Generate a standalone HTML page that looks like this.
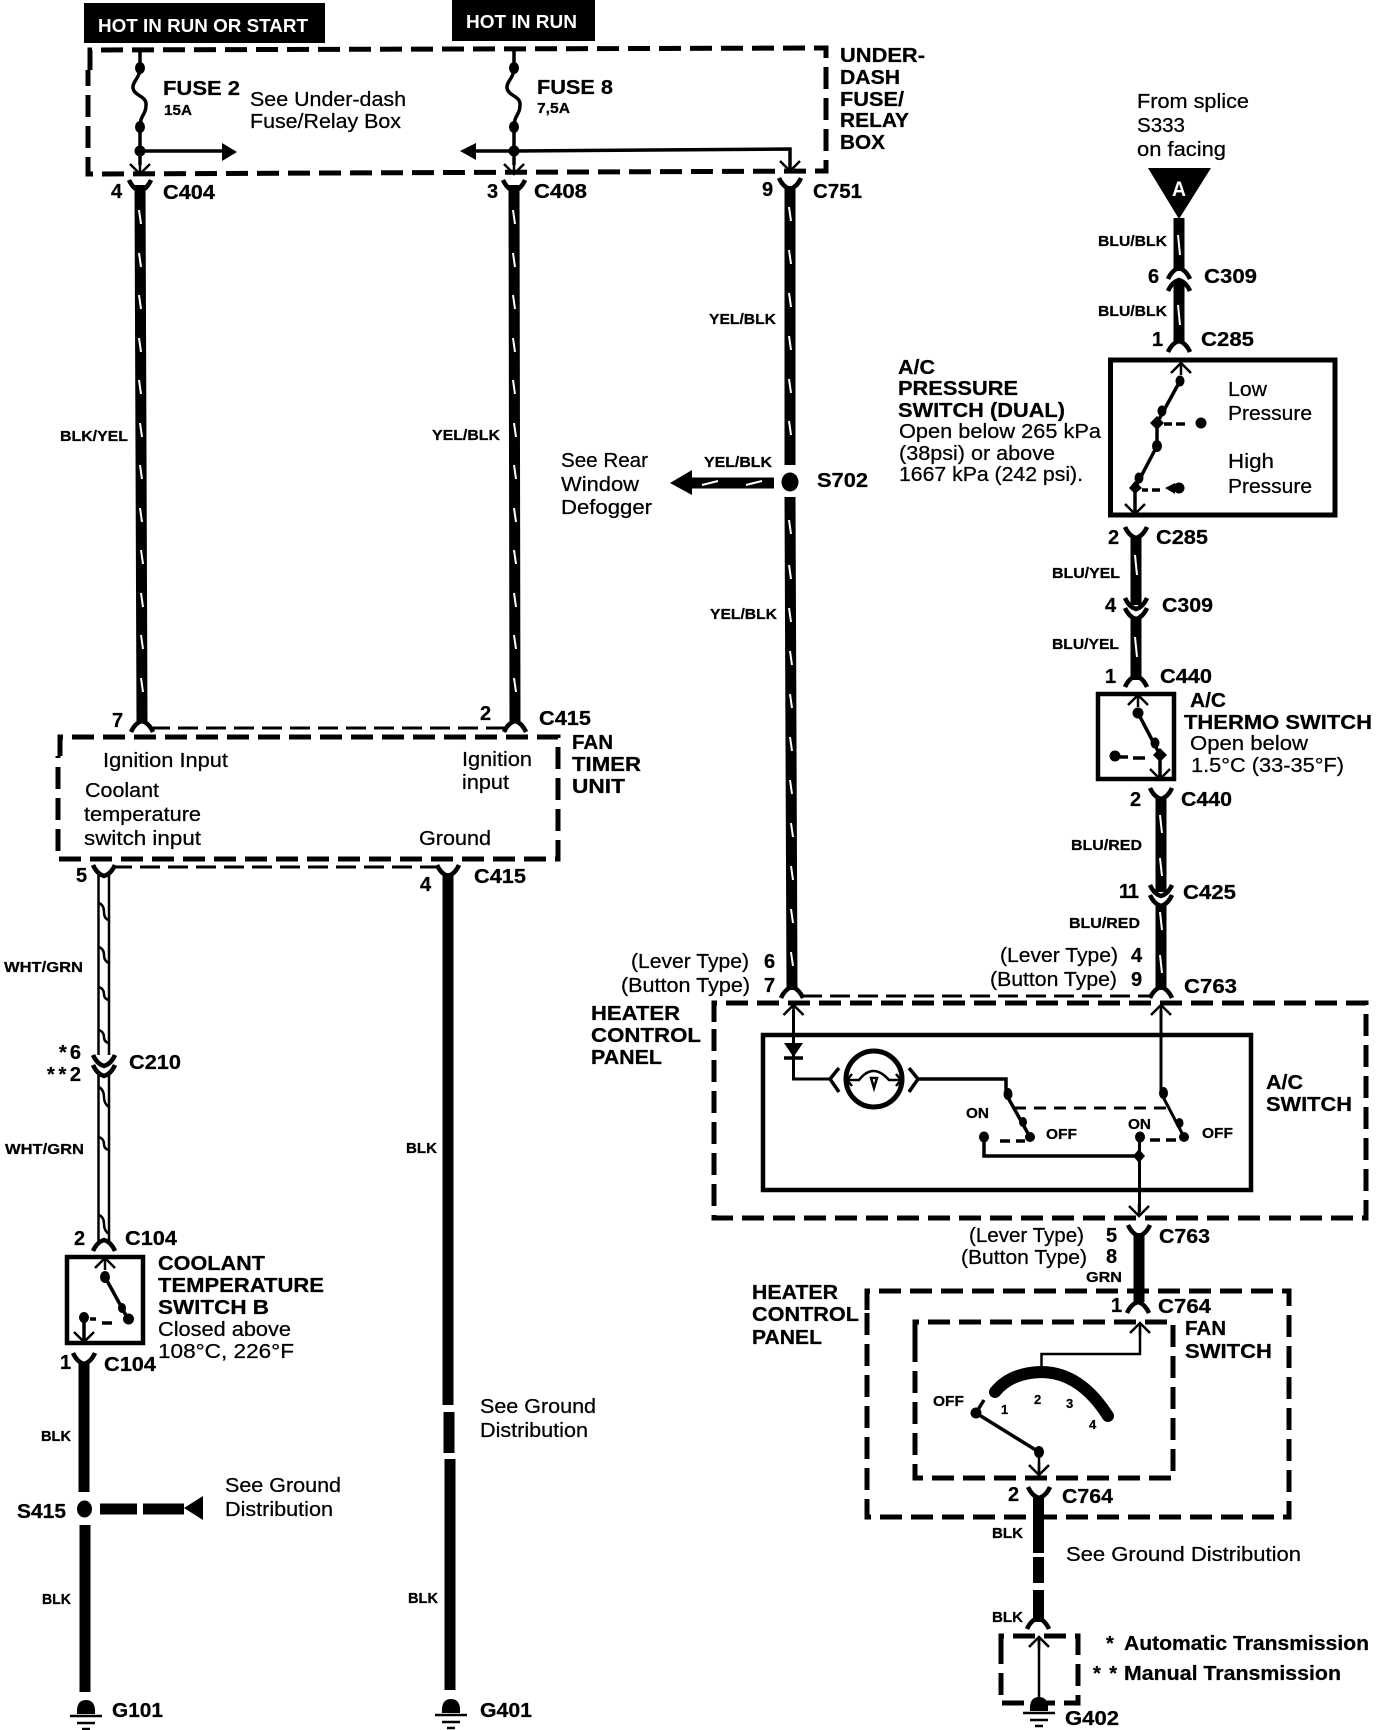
<!DOCTYPE html>
<html><head><meta charset="utf-8"><title>Heater control wiring diagram</title>
<style>
html,body{margin:0;padding:0;background:#fff}
svg{display:block}
text{font-family:"Liberation Sans",sans-serif;fill:#000;font-size:20px;stroke:#000;stroke-width:.25}
.b{font-weight:bold}
.s{font-weight:bold;font-size:14.5px}
.w{fill:#fff;font-weight:bold;stroke:none}
.d{fill:none;stroke:#000;stroke-width:5;stroke-dasharray:22 9}
.t{fill:none;stroke:#000;stroke-width:3;stroke-dasharray:20 8}
.l{fill:none;stroke:#000;stroke-width:2.5}
.x{fill:none;stroke:#000;stroke-width:11}
.m{fill:none;stroke:#000;stroke-width:3.5}
.bx{fill:none;stroke:#000;stroke-width:4.5}
</style></head><body>
<svg width="1392" height="1730" viewBox="0 0 1392 1730" xmlns="http://www.w3.org/2000/svg">
<defs>
<path id="y" d="M-11 0Q-7 9 0 11Q7 9 11 0" fill="none" stroke="#000" stroke-width="4.5"/>
<path id="n" d="M-11 0Q-7 -9 0 -11Q7 -9 11 0" fill="none" stroke="#000" stroke-width="4.5"/>
<path id="ad" d="M-10 -10L0 0L10 -10M0 0V-12" fill="none" stroke="#000" stroke-width="2.5"/>
<path id="au" d="M-10 10L0 0L10 10M0 0V12" fill="none" stroke="#000" stroke-width="2.5"/>
<g id="gnd"><path d="M-9 14Q-10 0 0 0Q10 0 9 14Z"/><path d="M-16 16H16M-9 23H9M-4 29H4" stroke="#000" stroke-width="2.5" fill="none"/></g>
</defs>
<rect width="1392" height="1730" fill="#fff"/>

<!-- hot boxes -->
<rect x="84" y="3" width="241" height="40"/>
<rect x="452" y="0" width="143" height="41"/>
<text class="w" x="98" y="32" style="font-size:18px" textLength="210" lengthAdjust="spacingAndGlyphs">HOT IN RUN OR START</text>
<text class="w" x="466" y="28" style="font-size:18px" textLength="111" lengthAdjust="spacingAndGlyphs">HOT IN RUN</text>

<!-- dashed boxes -->
<path class="d" d="M90 70V50L826 48V171L88 174V70"/>
<path class="d" d="M60 756V737L558 737V859H58V756"/>
<path class="d" d="M714 1022V1003H1366V1218H714V1022"/>
<path class="d" d="M867 1310V1291H1289V1517H867V1310"/>
<path class="d" d="M915 1340V1322H1173V1478H915V1340"/>
<path class="d" d="M1001 1655V1636H1078V1703H1001V1655"/>
<path class="t" d="M150 728H510"/>
<path class="t" d="M112 867H440"/>
<path class="t" d="M802 996H1152"/>

<!-- wires thick -->
<path class="x" d="M140 185L142 722"/>
<path class="x" d="M514 185L515 722"/>
<path class="x" d="M790 186V465M790 497L792 990"/>
<path class="x" d="M1179 218V271M1179 281V343"/>
<path class="x" d="M1136 536V605M1136 617V680"/>
<path class="x" d="M1161 798V892M1161 905V990"/>
<path class="x" d="M448 873V1405M449 1412V1453M450 1459V1690"/>
<path class="x" d="M84 1362V1492M85 1525V1692"/>
<path class="x" d="M1139 1233V1302"/>
<path class="x" d="M1038.500 1497V1553M1038.500 1557V1583M1038.500 1590V1622"/>
<path d="M774 477.500H692V470L670 483L692 495V488.500H774Z"/>
<ellipse cx="790" cy="482" rx="8.500" ry="9.500"/>
<ellipse cx="84.500" cy="1509" rx="7.500" ry="8.500"/>
<rect x="100" y="1503.500" width="37" height="11"/>
<rect x="143" y="1503.500" width="41" height="11"/>
<path d="M184 1508L203 1496V1520Z"/>

<!-- tick marks -->
<path fill="none" stroke="#fff" stroke-width="2" d="M139 210l2 14M139 253l2 14M139 295l2 14M139 338l2 14M139 380l2 14M140 423l2 14M140 465l2 14M140 508l2 14M141 550l2 14M141 593l2 14M141 635l2 14M141 678l2 14M513 210l2 14M513 253l2 14M513 295l2 14M513 338l2 14M513 380l2 14M514 423l2 14M514 465l2 14M514 508l2 14M514 550l2 14M514 593l2 14M514 635l2 14M514 678l2 14M789 207l2 14M789 250l2 14M789 293l2 14M789 336l2 14M789 379l2 14M789 421l2 14M789 520l2 14M789 565l2 14M789 608l2 14M790 651l2 14M790 694l2 14M790 737l2 14M790 780l2 14M791 823l2 14M791 866l2 14M791 909l2 14M791 952l2 14M1178 235l2 20M1178 305l2 20M1135 555l2 20M1135 637l2 20M1160 815l2 18M1160 858l2 18M1160 912l2 18M1160 955l2 18M702 485l16 -4M746 485l16 -4"/>

<!-- connectors -->
<use href="#y" x="140" y="180"/><use href="#y" x="514" y="180"/><use href="#y" x="790" y="178"/>
<use href="#y" x="1136" y="527"/><use href="#y" x="1161" y="788"/>
<use href="#y" x="1136" y="598"/><use href="#y" x="1136" y="608"/>
<use href="#y" x="1161" y="885"/><use href="#y" x="1161" y="895"/>
<use href="#y" x="104" y="1055"/><use href="#y" x="104" y="1065"/>
<use href="#y" x="104" y="865"/><use href="#y" x="448" y="865"/><use href="#y" x="84" y="1353"/>
<use href="#y" x="1139" y="1225"/><use href="#y" x="1039" y="1487"/>
<use href="#n" x="142" y="732"/><use href="#n" x="515" y="732"/><use href="#n" x="792" y="998"/><use href="#n" x="1161" y="998"/>
<use href="#n" x="1179" y="352"/><use href="#n" x="1136" y="687"/><use href="#n" x="104" y="1251"/><use href="#n" x="1138" y="1313"/><use href="#n" x="1038" y="1629"/>
<use href="#n" x="1179" y="279"/><use href="#n" x="1179" y="291"/>

<!-- hollow wire -->
<path class="m" style="stroke-width:2.500" d="M98.500 873V1055M109 873V1055M98.500 1074V1243M109 1074V1243"/>
<path class="l" d="M99 903Q104 905 104 912T109 920M99 947Q104 949 104 955T109 963M99 987Q104 989 104 994T109 1000M99 1030Q104 1032 104 1037T109 1043M99 1087Q104 1090 104 1097T109 1107M99 1137Q104 1139 104 1144T109 1150M99 1215Q104 1217 104 1224T109 1234"/>

<!-- fuses -->
<path class="m" d="M140 50V68C140 78 132 82 133 88C134 96 147 96 146 105C146 115 140 115 140 127V165"/>
<path class="m" d="M514 50V68C514 78 506 82 507 88C508 96 521 96 520 105C520 115 514 115 514 127V165"/>
<ellipse cx="140" cy="68" rx="5" ry="6"/><ellipse cx="140" cy="127" rx="5" ry="6"/><ellipse cx="140" cy="151" rx="5.500" ry="5.500"/>
<ellipse cx="514" cy="68" rx="5" ry="6"/><ellipse cx="514" cy="127" rx="5" ry="6"/><ellipse cx="514" cy="151" rx="5.500" ry="5.500"/>
<path class="m" d="M140 151H225"/><path d="M222 143L237 152L222 161Z"/>
<path class="m" d="M470 151H514L790 149V168"/><path d="M476 143L460 151L476 160Z"/>
<use href="#ad" x="140" y="174"/><use href="#ad" x="514" y="174"/><use href="#ad" x="790" y="171"/>

<!-- triangle A -->
<path d="M1148 168H1211L1179 219Z"/>
<text class="w" x="1172" y="196" style="font-size:21px" textLength="14" lengthAdjust="spacingAndGlyphs">A</text>

<!-- pressure switch -->
<rect class="bx" x="1110.500" y="360" width="224.500" height="155" style="stroke-width:5"/>
<use href="#au" x="1181" y="363"/>
<path class="m" d="M1180 381L1157 423V446L1135 488V512"/>
<ellipse cx="1180" cy="381" rx="4.500" ry="5.500"/><ellipse cx="1162" cy="411" rx="4.500" ry="5.500"/><path d="M1150 423L1157 416L1164 423L1157 430Z"/><ellipse cx="1157" cy="446" rx="5" ry="6"/><ellipse cx="1139" cy="478" rx="4.500" ry="5.500"/><path d="M1129 488L1135 481L1142 488L1135 494Z"/>
<path class="m" d="M1164 424H1172M1176 424H1185"/><ellipse cx="1201" cy="423" rx="5.500" ry="5.500"/>
<path class="m" d="M1142 490H1148M1152 490H1160"/><ellipse cx="1179" cy="488" rx="5.500" ry="5.500"/><path d="M1165 488L1175 483V494Z"/>
<use href="#ad" x="1135" y="514"/>

<!-- thermo switch -->
<rect class="bx" x="1098" y="694" width="76" height="85"/>
<use href="#au" x="1138" y="695"/>
<path class="m" d="M1138 713L1160 755V777"/>
<ellipse cx="1138" cy="713" rx="5.500" ry="5.500"/><ellipse cx="1155" cy="743" rx="4.500" ry="5.500"/><path d="M1153 755L1160 748L1167 755L1160 762Z"/>
<path class="m" d="M1133 758H1145M1128 757H1120"/><ellipse cx="1115" cy="756" rx="5.500" ry="5.500"/>
<use href="#ad" x="1160" y="779"/>

<!-- coolant switch -->
<rect class="bx" x="67" y="1257" width="76" height="86"/>
<use href="#au" x="105" y="1258"/>
<path class="m" d="M105 1277L128 1319"/>
<ellipse cx="105" cy="1277" rx="5" ry="6"/><ellipse cx="122" cy="1308" rx="4" ry="5"/><ellipse cx="128.500" cy="1319" rx="5.500" ry="5.500"/>
<path class="m" d="M102 1323H112"/><path class="m" d="M90 1319H96"/>
<ellipse cx="84" cy="1317.500" rx="5" ry="5.500"/><path class="m" d="M84 1318V1340"/>
<use href="#ad" x="84" y="1342"/>

<!-- A/C switch box -->
<rect class="bx" x="763" y="1035" width="488" height="155"/>
<use href="#au" x="793.500" y="1005"/>
<path class="m" d="M793.500 1010V1079H830" style="stroke-width:3"/>
<path d="M784 1043H803L793.500 1057Z"/><path class="m" d="M784 1058H803"/>
<path class="m" d="M839 1068L830 1079L839 1092M909 1068L918 1079L909 1092"/>
<ellipse cx="874" cy="1079" rx="28" ry="28" fill="none" stroke="#000" stroke-width="5"/>
<path class="l" d="M847 1080H859Q873 1062 889 1080H901M852 1074L847 1080L852 1086M896 1074L901 1080L896 1086"/>
<path class="l" d="M871 1078L874 1088L877 1078Z"/>
<path class="m" d="M918 1079H1006V1094L1030 1137"/>
<ellipse cx="1008" cy="1094" rx="4.500" ry="6"/><ellipse cx="1023" cy="1122" rx="4" ry="5"/><ellipse cx="1030" cy="1137" rx="5" ry="5"/>
<ellipse cx="984" cy="1137" rx="5" ry="5.500"/>
<path class="m" d="M984 1137V1156H1139"/>
<path class="m" d="M1000 1141H1010M1016 1141H1025"/>
<path class="t" style="stroke-dasharray:12 8" d="M1014 1108H1170"/>
<use href="#au" x="1161" y="1005"/>
<path class="m" d="M1161 1010V1093L1184 1137" style="stroke-width:3"/>
<ellipse cx="1163.500" cy="1093" rx="4.500" ry="6"/><ellipse cx="1179.500" cy="1123" rx="4" ry="5"/><ellipse cx="1184" cy="1137" rx="5" ry="5"/>
<ellipse cx="1140" cy="1137" rx="5" ry="5.500"/>
<path class="m" d="M1150 1140H1160M1166 1140H1176"/>
<path class="m" d="M1139.500 1137V1212" style="stroke-width:3"/>
<path d="M1133 1156L1139 1149L1145 1156L1139 1163Z"/>
<use href="#ad" x="1139" y="1216"/>

<!-- fan switch -->
<use href="#au" x="1140" y="1323"/>
<path class="l" d="M1140 1328V1354H1041.500V1370"/>
<path d="M995 1392Q1010 1373 1041 1372Q1080 1372 1108 1416" fill="none" stroke="#000" stroke-width="12" stroke-linecap="round"/>
<ellipse cx="976" cy="1413" rx="5.500" ry="5.500"/>
<path class="m" d="M976 1413L984 1400M976 1413L1039 1452"/>
<ellipse cx="1039" cy="1452" rx="5" ry="6"/>
<path class="l" d="M1039 1452V1473"/>
<use href="#ad" x="1039" y="1475"/>

<!-- small ground box -->
<use href="#au" x="1039" y="1637"/>
<path class="l" d="M1039 1640V1700"/>

<!-- grounds -->
<use href="#gnd" x="86" y="1700"/>
<use href="#gnd" x="451" y="1699"/>
<use href="#gnd" x="1039" y="1697"/>

<!-- labels top -->
<text class="b" x="163" y="95" textLength="77" lengthAdjust="spacingAndGlyphs">FUSE 2</text>
<text class="s" x="164" y="115" textLength="28" lengthAdjust="spacingAndGlyphs">15A</text>
<text x="250" y="106" textLength="156" lengthAdjust="spacingAndGlyphs">See Under-dash</text>
<text x="250" y="128" textLength="151" lengthAdjust="spacingAndGlyphs">Fuse/Relay Box</text>
<text class="b" x="537" y="94" textLength="76" lengthAdjust="spacingAndGlyphs">FUSE 8</text>
<text class="s" x="537" y="113" textLength="33" lengthAdjust="spacingAndGlyphs">7,5A</text>
<text class="b" x="840" y="62" textLength="85" lengthAdjust="spacingAndGlyphs">UNDER-</text>
<text class="b" x="840" y="84" textLength="60" lengthAdjust="spacingAndGlyphs">DASH</text>
<text class="b" x="840" y="106" textLength="64" lengthAdjust="spacingAndGlyphs">FUSE/</text>
<text class="b" x="840" y="127" textLength="69" lengthAdjust="spacingAndGlyphs">RELAY</text>
<text class="b" x="840" y="149" textLength="45" lengthAdjust="spacingAndGlyphs">BOX</text>
<text class="b" x="111" y="198">4</text>
<text class="b" x="163" y="199" textLength="52" lengthAdjust="spacingAndGlyphs">C404</text>
<text class="b" x="487" y="198">3</text>
<text class="b" x="534" y="198" textLength="53" lengthAdjust="spacingAndGlyphs">C408</text>
<text class="b" x="762" y="196">9</text>
<text class="b" x="813" y="198" textLength="49" lengthAdjust="spacingAndGlyphs">C751</text>
<text class="s" x="60" y="441" textLength="68" lengthAdjust="spacingAndGlyphs">BLK/YEL</text>
<text class="s" x="432" y="440" textLength="68" lengthAdjust="spacingAndGlyphs">YEL/BLK</text>
<text class="s" x="709" y="324" textLength="67" lengthAdjust="spacingAndGlyphs">YEL/BLK</text>
<text class="s" x="704" y="467" textLength="68" lengthAdjust="spacingAndGlyphs">YEL/BLK</text>
<text class="s" x="710" y="619" textLength="67" lengthAdjust="spacingAndGlyphs">YEL/BLK</text>
<text class="b" x="817" y="487" textLength="51" lengthAdjust="spacingAndGlyphs">S702</text>
<text x="561" y="467" textLength="87" lengthAdjust="spacingAndGlyphs">See Rear</text>
<text x="561" y="491" textLength="78" lengthAdjust="spacingAndGlyphs">Window</text>
<text x="561" y="514" textLength="91" lengthAdjust="spacingAndGlyphs">Defogger</text>

<!-- right top -->
<text x="1137" y="108" textLength="112" lengthAdjust="spacingAndGlyphs">From splice</text>
<text x="1137" y="132" textLength="48" lengthAdjust="spacingAndGlyphs">S333</text>
<text x="1137" y="156" textLength="89" lengthAdjust="spacingAndGlyphs">on facing</text>
<text class="s" x="1098" y="246" textLength="69" lengthAdjust="spacingAndGlyphs">BLU/BLK</text>
<text class="s" x="1098" y="316" textLength="69" lengthAdjust="spacingAndGlyphs">BLU/BLK</text>
<text class="b" x="1148" y="283">6</text>
<text class="b" x="1204" y="283" textLength="53" lengthAdjust="spacingAndGlyphs">C309</text>
<text class="b" x="1152" y="346">1</text>
<text class="b" x="1201" y="346" textLength="53" lengthAdjust="spacingAndGlyphs">C285</text>
<text class="b" x="898" y="374" textLength="37" lengthAdjust="spacingAndGlyphs">A/C</text>
<text class="b" x="898" y="395" textLength="120" lengthAdjust="spacingAndGlyphs">PRESSURE</text>
<text class="b" x="898" y="417" textLength="167" lengthAdjust="spacingAndGlyphs">SWITCH (DUAL)</text>
<text x="899" y="438" textLength="202" lengthAdjust="spacingAndGlyphs">Open below 265 kPa</text>
<text x="899" y="460" textLength="156" lengthAdjust="spacingAndGlyphs">(38psi) or above</text>
<text x="899" y="481" textLength="184" lengthAdjust="spacingAndGlyphs">1667 kPa (242 psi).</text>
<text x="1228" y="396" textLength="39" lengthAdjust="spacingAndGlyphs">Low</text>
<text x="1228" y="420" textLength="84" lengthAdjust="spacingAndGlyphs">Pressure</text>
<text x="1228" y="468" textLength="46" lengthAdjust="spacingAndGlyphs">High</text>
<text x="1228" y="493" textLength="84" lengthAdjust="spacingAndGlyphs">Pressure</text>
<text class="b" x="1108" y="544">2</text>
<text class="b" x="1156" y="544" textLength="52" lengthAdjust="spacingAndGlyphs">C285</text>
<text class="s" x="1052" y="578" textLength="68" lengthAdjust="spacingAndGlyphs">BLU/YEL</text>
<text class="s" x="1052" y="649" textLength="67" lengthAdjust="spacingAndGlyphs">BLU/YEL</text>
<text class="b" x="1105" y="612">4</text>
<text class="b" x="1162" y="612" textLength="51" lengthAdjust="spacingAndGlyphs">C309</text>
<text class="b" x="1105" y="683">1</text>
<text class="b" x="1160" y="683" textLength="52" lengthAdjust="spacingAndGlyphs">C440</text>
<text class="b" x="1190" y="707" textLength="36" lengthAdjust="spacingAndGlyphs">A/C</text>
<text class="b" x="1184" y="729" textLength="188" lengthAdjust="spacingAndGlyphs">THERMO SWITCH</text>
<text x="1190" y="750" textLength="118" lengthAdjust="spacingAndGlyphs">Open below</text>
<text x="1191" y="772" textLength="153" lengthAdjust="spacingAndGlyphs">1.5°C (33-35°F)</text>
<text class="b" x="1130" y="806">2</text>
<text class="b" x="1181" y="806" textLength="51" lengthAdjust="spacingAndGlyphs">C440</text>
<text class="s" x="1071" y="850" textLength="71" lengthAdjust="spacingAndGlyphs">BLU/RED</text>
<text class="b" x="1119" y="898" textLength="20" lengthAdjust="spacing">11</text>
<text class="b" x="1183" y="899" textLength="53" lengthAdjust="spacingAndGlyphs">C425</text>
<text class="s" x="1069" y="928" textLength="71" lengthAdjust="spacingAndGlyphs">BLU/RED</text>

<!-- heater labels -->
<text x="631" y="968" textLength="118" lengthAdjust="spacingAndGlyphs">(Lever Type)</text>
<text x="621" y="992" textLength="129" lengthAdjust="spacingAndGlyphs">(Button Type)</text>
<text class="b" x="764" y="968">6</text>
<text class="b" x="764" y="992">7</text>
<text x="1000" y="962" textLength="118" lengthAdjust="spacingAndGlyphs">(Lever Type)</text>
<text x="990" y="986" textLength="127" lengthAdjust="spacingAndGlyphs">(Button Type)</text>
<text class="b" x="1131" y="962">4</text>
<text class="b" x="1131" y="986">9</text>
<text class="b" x="1184" y="993" textLength="53" lengthAdjust="spacingAndGlyphs">C763</text>
<text class="b" x="591" y="1020" textLength="89" lengthAdjust="spacingAndGlyphs">HEATER</text>
<text class="b" x="591" y="1042" textLength="110" lengthAdjust="spacingAndGlyphs">CONTROL</text>
<text class="b" x="591" y="1064" textLength="71" lengthAdjust="spacingAndGlyphs">PANEL</text>
<text class="s" x="966" y="1118" textLength="23" lengthAdjust="spacingAndGlyphs">ON</text>
<text class="s" x="1046" y="1139" textLength="31" lengthAdjust="spacingAndGlyphs">OFF</text>
<text class="s" x="1128" y="1129" textLength="23" lengthAdjust="spacingAndGlyphs">ON</text>
<text class="s" x="1202" y="1138" textLength="31" lengthAdjust="spacingAndGlyphs">OFF</text>
<text class="b" x="1266" y="1089" textLength="37" lengthAdjust="spacingAndGlyphs">A/C</text>
<text class="b" x="1266" y="1111" textLength="86" lengthAdjust="spacingAndGlyphs">SWITCH</text>
<text x="969" y="1242" textLength="115" lengthAdjust="spacingAndGlyphs">(Lever Type)</text>
<text x="961" y="1264" textLength="126" lengthAdjust="spacingAndGlyphs">(Button Type)</text>
<text class="b" x="1106" y="1242">5</text>
<text class="b" x="1106" y="1263">8</text>
<text class="b" x="1159" y="1243" textLength="51" lengthAdjust="spacingAndGlyphs">C763</text>
<text class="s" x="1086" y="1282" textLength="36" lengthAdjust="spacingAndGlyphs">GRN</text>
<text class="b" x="752" y="1299" textLength="86" lengthAdjust="spacingAndGlyphs">HEATER</text>
<text class="b" x="752" y="1321" textLength="107" lengthAdjust="spacingAndGlyphs">CONTROL</text>
<text class="b" x="752" y="1344" textLength="70" lengthAdjust="spacingAndGlyphs">PANEL</text>
<text class="b" x="1111" y="1312">1</text>
<text class="b" x="1158" y="1313" textLength="53" lengthAdjust="spacingAndGlyphs">C764</text>
<text class="b" x="1185" y="1335" textLength="41" lengthAdjust="spacingAndGlyphs">FAN</text>
<text class="b" x="1185" y="1358" textLength="87" lengthAdjust="spacingAndGlyphs">SWITCH</text>
<text class="s" x="933" y="1406" textLength="31" lengthAdjust="spacingAndGlyphs">OFF</text>
<text class="s" x="1001" y="1414" style="font-size:13px">1</text>
<text class="s" x="1034" y="1404" style="font-size:13px">2</text>
<text class="s" x="1066" y="1408" style="font-size:13px">3</text>
<text class="s" x="1089" y="1429" style="font-size:13px">4</text>
<text class="b" x="1008" y="1501">2</text>
<text class="b" x="1062" y="1503" textLength="51" lengthAdjust="spacingAndGlyphs">C764</text>
<text class="s" x="992" y="1538" textLength="31" lengthAdjust="spacingAndGlyphs">BLK</text>
<text x="1066" y="1561" textLength="235" lengthAdjust="spacingAndGlyphs">See Ground Distribution</text>
<text class="s" x="992" y="1622" textLength="31" lengthAdjust="spacingAndGlyphs">BLK</text>
<text class="b" x="1106" y="1650">*</text>
<text class="b" x="1124" y="1650" textLength="245" lengthAdjust="spacingAndGlyphs">Automatic Transmission</text>
<text class="b" x="1093" y="1680" textLength="24" lengthAdjust="spacing">**</text>
<text class="b" x="1124" y="1680" textLength="217" lengthAdjust="spacingAndGlyphs">Manual Transmission</text>
<text class="b" x="1065" y="1725" textLength="54" lengthAdjust="spacingAndGlyphs">G402</text>

<!-- fan timer -->
<text class="b" x="112" y="727">7</text>
<text class="b" x="480" y="720">2</text>
<text class="b" x="539" y="725" textLength="52" lengthAdjust="spacingAndGlyphs">C415</text>
<text class="b" x="572" y="749" textLength="41" lengthAdjust="spacingAndGlyphs">FAN</text>
<text class="b" x="572" y="771" textLength="69" lengthAdjust="spacingAndGlyphs">TIMER</text>
<text class="b" x="572" y="793" textLength="53" lengthAdjust="spacingAndGlyphs">UNIT</text>
<text x="103" y="767" textLength="125" lengthAdjust="spacingAndGlyphs">Ignition Input</text>
<text x="85" y="797" textLength="74" lengthAdjust="spacingAndGlyphs">Coolant</text>
<text x="84" y="821" textLength="117" lengthAdjust="spacingAndGlyphs">temperature</text>
<text x="84" y="845" textLength="117" lengthAdjust="spacingAndGlyphs">switch input</text>
<text x="462" y="766" textLength="70" lengthAdjust="spacingAndGlyphs">Ignition</text>
<text x="462" y="789" textLength="47" lengthAdjust="spacingAndGlyphs">input</text>
<text x="419" y="845" textLength="72" lengthAdjust="spacingAndGlyphs">Ground</text>
<text class="b" x="76" y="882">5</text>
<text class="b" x="420" y="891">4</text>
<text class="b" x="474" y="883" textLength="52" lengthAdjust="spacingAndGlyphs">C415</text>
<text class="s" x="4" y="972" textLength="79" lengthAdjust="spacingAndGlyphs">WHT/GRN</text>
<text class="b" x="59" y="1059" textLength="22" lengthAdjust="spacing">*6</text>
<text class="b" x="47" y="1081" textLength="34" lengthAdjust="spacing">**2</text>
<text class="b" x="129" y="1069" textLength="52" lengthAdjust="spacingAndGlyphs">C210</text>
<text class="s" x="5" y="1154" textLength="79" lengthAdjust="spacingAndGlyphs">WHT/GRN</text>
<text class="s" x="406" y="1153" textLength="31" lengthAdjust="spacingAndGlyphs">BLK</text>

<!-- lower left -->
<text class="b" x="74" y="1245">2</text>
<text class="b" x="125" y="1245" textLength="52" lengthAdjust="spacingAndGlyphs">C104</text>
<text class="b" x="158" y="1270" textLength="107" lengthAdjust="spacingAndGlyphs">COOLANT</text>
<text class="b" x="158" y="1292" textLength="166" lengthAdjust="spacingAndGlyphs">TEMPERATURE</text>
<text class="b" x="158" y="1314" textLength="111" lengthAdjust="spacingAndGlyphs">SWITCH B</text>
<text x="158" y="1336" textLength="133" lengthAdjust="spacingAndGlyphs">Closed above</text>
<text x="158" y="1358" textLength="136" lengthAdjust="spacingAndGlyphs">108°C, 226°F</text>
<text class="b" x="60" y="1369">1</text>
<text class="b" x="104" y="1371" textLength="52" lengthAdjust="spacingAndGlyphs">C104</text>
<text class="s" x="41" y="1441" textLength="30" lengthAdjust="spacingAndGlyphs">BLK</text>
<text class="b" x="17" y="1518" textLength="49" lengthAdjust="spacingAndGlyphs">S415</text>
<text x="225" y="1492" textLength="116" lengthAdjust="spacingAndGlyphs">See Ground</text>
<text x="225" y="1516" textLength="108" lengthAdjust="spacingAndGlyphs">Distribution</text>
<text class="s" x="42" y="1604" textLength="29" lengthAdjust="spacingAndGlyphs">BLK</text>
<text class="b" x="112" y="1717" textLength="51" lengthAdjust="spacingAndGlyphs">G101</text>
<text x="480" y="1413" textLength="116" lengthAdjust="spacingAndGlyphs">See Ground</text>
<text x="480" y="1437" textLength="108" lengthAdjust="spacingAndGlyphs">Distribution</text>
<text class="s" x="408" y="1603" textLength="30" lengthAdjust="spacingAndGlyphs">BLK</text>
<text class="b" x="480" y="1717" textLength="52" lengthAdjust="spacingAndGlyphs">G401</text>
</svg>
</body></html>
